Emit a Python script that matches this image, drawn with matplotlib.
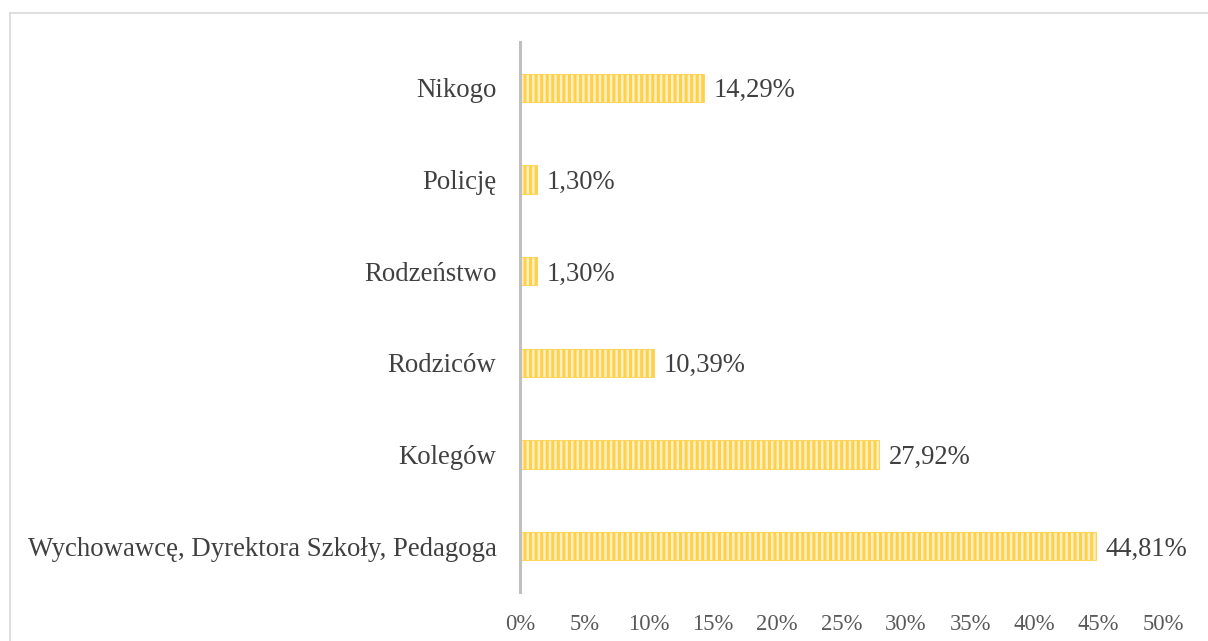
import matplotlib
matplotlib.use("Agg")
import matplotlib.pyplot as plt
from matplotlib.lines import Line2D

categories = ["Wychowawcę, Dyrektora Szkoły, Pedagoga", "Kolegów", "Rodziców",
              "Rodzeństwo", "Policję", "Nikogo"]
values = [44.81, 27.92, 10.39, 1.30, 1.30, 14.29]
labels = ["44,81%", "27,92%", "10,39%", "1,30%", "1,30%", "14,29%"]
ticks = [0, 5, 10, 15, 20, 25, 30, 35, 40, 45, 50]

plt.rcParams["font.family"] = ["Liberation Serif", "DejaVu Serif"]
plt.rcParams["hatch.linewidth"] = 2.2
plt.rcParams["hatch.color"] = "#FFC000"

W, H = 1208, 641
fig = plt.figure(figsize=(W / 100, H / 100), dpi=100)
ax = fig.add_axes([520 / W, 1 - 592 / H, (1163 - 520) / W, (592 - 42) / H])

pos = list(range(len(categories)))
ax.barh(pos, values, height=0.31, color="#FEF0C4", edgecolor="#FFD04A",
        linewidth=0.6, hatch="|||")

for p, v, t in zip(pos, values, labels):
    ax.text(v + 0.75, p, t, va="center_baseline", ha="left", fontsize=19.2,
            color="#404040")

ax.set_xlim(0, 50)
ax.set_ylim(-0.5, 5.5)
ax.set_xticks(ticks)
ax.set_xticklabels([f"{t}%" for t in ticks], fontsize=16.3, color="#595959")
ax.set_yticks(pos)
ax.set_yticklabels(categories, fontsize=19.3, color="#404040")
for lab in ax.get_yticklabels():
    lab.set_verticalalignment("center_baseline")
ax.tick_params(axis="x", length=0, pad=16)
ax.tick_params(axis="y", length=0, pad=17)

for s in ["top", "right", "bottom"]:
    ax.spines[s].set_visible(False)
ax.spines["left"].set_color("#BFBFBF")
ax.spines["left"].set_linewidth(2.2)

# chart area border (only top and left edges visible in the crop)
fig.add_artist(Line2D([9.5 / W, 1], [1 - 13 / H, 1 - 13 / H], color="#D9D9D9", lw=1.2))
fig.add_artist(Line2D([9.5 / W, 9.5 / W], [0, 1 - 13 / H], color="#D9D9D9", lw=1.2))

fig.savefig("out.png", dpi=100, facecolor="white")
